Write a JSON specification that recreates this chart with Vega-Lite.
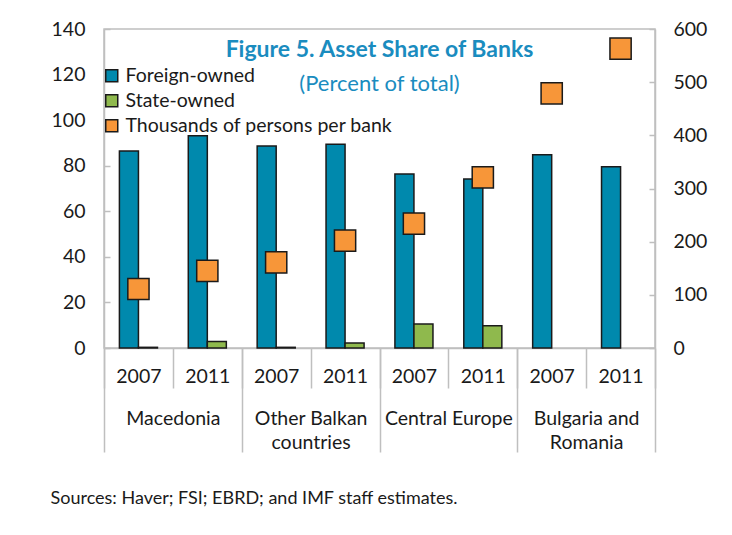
{
  "$schema": "https://vega.github.io/schema/vega-lite/v6.json",
  "width": 551,
  "height": 319,
  "autosize": "none",
  "padding": {"left": 104, "top": 29, "right": 77, "bottom": 187},
  "background": "white",
  "config": {
    "view": {"stroke": "#bfbfbf", "strokeWidth": 1.5},
    "font": "Lato",
    "axis": {"labelFont": "Lato", "titleFont": "Lato", "grid": false}
  },
  "title": {
    "text": "Figure 5. Asset Share of Banks",
    "subtitle": "(Percent of total)",
    "color": "#1a8cbf",
    "subtitleColor": "#1a8cbf",
    "font": "Lato",
    "subtitleFont": "Lato",
    "fontSize": 23,
    "subtitleFontSize": 22,
    "fontWeight": "bold",
    "subtitleFontWeight": "normal",
    "anchor": "middle",
    "frame": "group",
    "offset": -76,
    "subtitlePadding": 12
  },
  "data": {
    "values": [
      {"group": "Macedonia", "year": "2007", "cat": "Macedonia|2007", "series": "Foreign-owned", "value": 86.5},
      {"group": "Macedonia", "year": "2007", "cat": "Macedonia|2007", "series": "State-owned", "value": 0.3},
      {"group": "Macedonia", "year": "2007", "cat": "Macedonia|2007", "series": "Thousands of persons per bank", "value": 111},
      {"group": "Macedonia", "year": "2011", "cat": "Macedonia|2011", "series": "Foreign-owned", "value": 93.2},
      {"group": "Macedonia", "year": "2011", "cat": "Macedonia|2011", "series": "State-owned", "value": 2.9},
      {"group": "Macedonia", "year": "2011", "cat": "Macedonia|2011", "series": "Thousands of persons per bank", "value": 145},
      {"group": "Other Balkan countries", "year": "2007", "cat": "Other Balkan countries|2007", "series": "Foreign-owned", "value": 88.7},
      {"group": "Other Balkan countries", "year": "2007", "cat": "Other Balkan countries|2007", "series": "State-owned", "value": 0.3},
      {"group": "Other Balkan countries", "year": "2007", "cat": "Other Balkan countries|2007", "series": "Thousands of persons per bank", "value": 161},
      {"group": "Other Balkan countries", "year": "2011", "cat": "Other Balkan countries|2011", "series": "Foreign-owned", "value": 89.4},
      {"group": "Other Balkan countries", "year": "2011", "cat": "Other Balkan countries|2011", "series": "State-owned", "value": 2.2},
      {"group": "Other Balkan countries", "year": "2011", "cat": "Other Balkan countries|2011", "series": "Thousands of persons per bank", "value": 202},
      {"group": "Central Europe", "year": "2007", "cat": "Central Europe|2007", "series": "Foreign-owned", "value": 76.4},
      {"group": "Central Europe", "year": "2007", "cat": "Central Europe|2007", "series": "State-owned", "value": 10.5},
      {"group": "Central Europe", "year": "2007", "cat": "Central Europe|2007", "series": "Thousands of persons per bank", "value": 234},
      {"group": "Central Europe", "year": "2011", "cat": "Central Europe|2011", "series": "Foreign-owned", "value": 74.2},
      {"group": "Central Europe", "year": "2011", "cat": "Central Europe|2011", "series": "State-owned", "value": 9.8},
      {"group": "Central Europe", "year": "2011", "cat": "Central Europe|2011", "series": "Thousands of persons per bank", "value": 321},
      {"group": "Bulgaria and Romania", "year": "2007", "cat": "Bulgaria and Romania|2007", "series": "Foreign-owned", "value": 84.8},
      {"group": "Bulgaria and Romania", "year": "2007", "cat": "Bulgaria and Romania|2007", "series": "Thousands of persons per bank", "value": 479},
      {"group": "Bulgaria and Romania", "year": "2011", "cat": "Bulgaria and Romania|2011", "series": "Foreign-owned", "value": 79.6},
      {"group": "Bulgaria and Romania", "year": "2011", "cat": "Bulgaria and Romania|2011", "series": "Thousands of persons per bank", "value": 563}
    ]
  },
  "layer": [
    {
      "layer": [
        {
          "transform": [{"filter": "datum.series != 'Thousands of persons per bank'"}],
          "mark": {"type": "bar", "stroke": "#1a1a1a", "strokeWidth": 1.5},
          "encoding": {
            "x": {
              "field": "cat",
              "type": "nominal",
              "scale": {
                "domain": ["Macedonia|2007", "Macedonia|2011", "Other Balkan countries|2007", "Other Balkan countries|2011", "Central Europe|2007", "Central Europe|2011", "Bulgaria and Romania|2007", "Bulgaria and Romania|2011"],
                "paddingInner": 0,
                "paddingOuter": 0
              },
              "axis": {
                "title": null,
                "labelExpr": "split(datum.value, '|')[1]",
                "labelAngle": 0,
                "labelFontSize": 19.5,
                "labelColor": "#1a1a1a",
                "labelPadding": -21,
                "tickBand": "extent",
                "tickSize": 40,
                "tickColor": "#bfbfbf",
                "tickWidth": 1.5,
                "domainColor": "#bfbfbf",
                "domainWidth": 1.5
              }
            },
            "xOffset": {"field": "series", "scale": {"domain": ["Foreign-owned", "State-owned"], "paddingInner": 0, "paddingOuter": 0.81}},
            "y": {
              "field": "value",
              "type": "quantitative",
              "scale": {"domain": [0, 140]},
              "axis": {
                "title": null,
                "values": [0, 20, 40, 60, 80, 100, 120, 140],
                "labelFontSize": 19.5,
                "labelColor": "#1a1a1a",
                "tickSize": -6,
                "labelPadding": 25,
                "tickColor": "#bfbfbf",
                "tickWidth": 1.5,
                "domainColor": "#bfbfbf",
                "domainWidth": 1.5
              }
            },
            "color": {
              "field": "series",
              "type": "nominal",
              "scale": {
                "domain": ["Foreign-owned", "State-owned", "Thousands of persons per bank"],
                "range": ["#0089ad", "#8fb94d", "#f79639"]
              },
              "legend": {
                "title": null,
                "orient": "none",
                "legendX": -2,
                "legendY": 37,
                "padding": 0,
                "symbolType": "square",
                "symbolSize": 144,
                "symbolStrokeColor": "#1a1a1a",
                "symbolStrokeWidth": 1.5,
                "labelFontSize": 19.5,
                "labelColor": "#1a1a1a",
                "labelFont": "Lato",
                "labelOffset": 4,
                "rowPadding": 4,
                "labelLimit": 400
              }
            }
          }
        },
        {
          "transform": [{"filter": "datum.series == 'Thousands of persons per bank'"}],
          "mark": {"type": "point", "shape": "square", "filled": true, "size": 450, "stroke": "#1a1a1a", "strokeWidth": 1.5, "opacity": 1},
          "encoding": {
            "x": {"field": "cat", "type": "nominal"},
            "y": {
              "field": "value",
              "type": "quantitative",
              "scale": {"domain": [0, 600]},
              "axis": {
                "title": null,
                "values": [0, 100, 200, 300, 400, 500, 600],
                "labelFontSize": 19.5,
                "labelColor": "#1a1a1a",
                "tickSize": -6,
                "labelPadding": 24,
                "tickColor": "#bfbfbf",
                "tickWidth": 1.5,
                "domainColor": "#bfbfbf",
                "domainWidth": 1.5
              }
            },
            "color": {"field": "series", "type": "nominal"}
          }
        }
      ],
      "resolve": {"scale": {"y": "independent"}}
    },
    {
      "mark": {"type": "point", "opacity": 0},
      "encoding": {
        "x": {
          "field": "group",
          "type": "nominal",
          "scale": {"domain": ["Macedonia", "Other Balkan countries", "Central Europe", "Bulgaria and Romania"], "paddingInner": 0, "paddingOuter": 0},
          "axis": {
            "orient": "bottom",
            "title": "Sources:  Haver; FSI; EBRD; and IMF staff estimates.",
            "titleFontSize": 18,
            "titleFontWeight": "normal",
            "titleColor": "#1a1a1a",
            "titleAnchor": "start",
            "titleAlign": "left",
            "titleBaseline": "alphabetic",
            "titleX": -54,
            "titleY": 155,
            "labelExpr": "datum.value == 'Other Balkan countries' ? ['Other Balkan', 'countries'] : datum.value == 'Bulgaria and Romania' ? ['Bulgaria and', 'Romania'] : datum.value",
            "labelAngle": 0,
            "labelFontSize": 19.5,
            "labelColor": "#1a1a1a",
            "labelLineHeight": 24,
            "labelPadding": -43,
            "labelOverlap": false,
            "labelLimit": 300,
            "tickBand": "extent",
            "tickSize": 104,
            "tickColor": "#bfbfbf",
            "tickWidth": 1.5,
            "domain": false
          }
        }
      }
    }
  ],
  "resolve": {"scale": {"x": "independent", "y": "independent"}}
}
